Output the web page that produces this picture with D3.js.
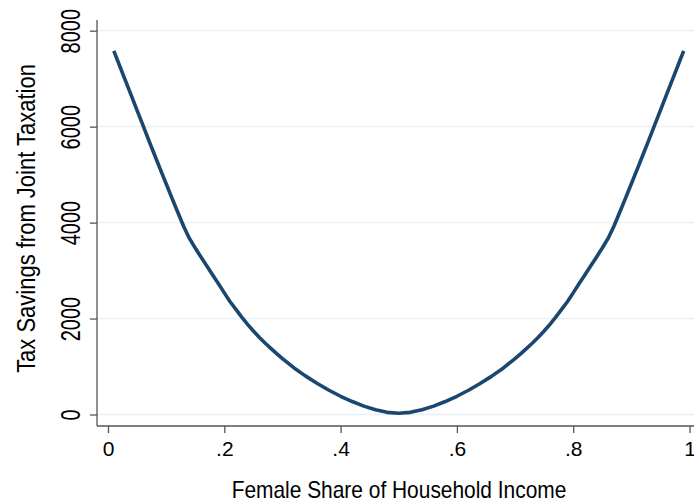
<!DOCTYPE html>
<html>
<head>
<meta charset="utf-8">
<script src="https://cdn.jsdelivr.net/npm/d3@7"></script>
<style>
  html, body { margin: 0; padding: 0; background: #fff; }
  svg { display: block; }
  text { font-family: "Liberation Sans", Arial, sans-serif; fill: #000; }
</style>
</head>
<body>
<svg id="chart" width="694" height="503"></svg>
<script>
// ---- data ----
const shareValues = [
  0.01, 0.02, 0.03, 0.04, 0.05, 0.06, 0.07, 0.08, 0.09, 0.10,
  0.11, 0.12, 0.13, 0.14, 0.15, 0.16, 0.17, 0.18, 0.19, 0.20,
  0.21, 0.22, 0.23, 0.24, 0.25, 0.26, 0.27, 0.28, 0.29, 0.30,
  0.32, 0.34, 0.36, 0.38, 0.40, 0.42, 0.44, 0.46, 0.48, 0.50,
  0.52, 0.54, 0.56, 0.58, 0.60, 0.62, 0.64, 0.66, 0.68, 0.70,
  0.71, 0.72, 0.73, 0.74, 0.75, 0.76, 0.77, 0.78, 0.79, 0.80,
  0.81, 0.82, 0.83, 0.84, 0.85, 0.86, 0.87, 0.88, 0.89, 0.90,
  0.91, 0.92, 0.93, 0.94, 0.95, 0.96, 0.97, 0.98, 0.99
];
const savingsValues = [
  7580, 7270, 6960, 6650, 6340, 6030, 5720, 5415, 5110, 4810,
  4510, 4215, 3925, 3670, 3470, 3280, 3095, 2910, 2725, 2535,
  2350, 2190, 2030, 1880, 1740, 1610, 1490, 1380, 1270, 1165,
  970, 800, 645, 505, 380, 270, 175, 100, 45, 25,
  45, 100, 175, 270, 380, 505, 645, 800, 970, 1165,
  1270, 1380, 1490, 1610, 1740, 1880, 2030, 2190, 2350, 2535,
  2725, 2910, 3095, 3280, 3470, 3670, 3925, 4215, 4510, 4810,
  5110, 5415, 5720, 6030, 6340, 6650, 6960, 7270, 7580
];
const xTickValues = [0, 0.2, 0.4, 0.6, 0.8, 1];
const xTickLabels = ["0", ".2", ".4", ".6", ".8", "1"];
const yTickValues = [0, 2000, 4000, 6000, 8000];
const yTickLabels = ["0", "2000", "4000", "6000", "8000"];
const xTitle = "Female Share of Household Income";
const yTitle = "Tax Savings from Joint Taxation";

// ---- layout ----
const svg = d3.select("#chart");
const axisX = 97, axisY = 426, plotTop = 20, plotRight = 694;
const x = d3.scaleLinear().domain([0, 1]).range([108, 689.5]);
const y = d3.scaleLinear().domain([0, 8000]).range([414.5, 30.7]);

// gridlines
svg.append("g").selectAll("line").data(yTickValues).join("line")
  .attr("x1", axisX).attr("x2", plotRight)
  .attr("y1", d => y(d)).attr("y2", d => y(d))
  .attr("stroke", "#e6eff1").attr("stroke-width", 1.3);

// y axis
const yAxis = svg.append("g").attr("transform", `translate(${axisX},0)`)
  .call(d3.axisLeft(y).tickValues(yTickValues).tickSize(7).tickFormat((d, i) => yTickLabels[i]));
yAxis.select(".domain").attr("d", `M0,${plotTop}V${axisY}`).attr("stroke", "#555").attr("stroke-width", 1.3);
yAxis.selectAll(".tick line").attr("stroke", "#555").attr("stroke-width", 1.3);
yAxis.selectAll(".tick text")
  .attr("font-size", 20).attr("font-family", "Liberation Sans, Arial, sans-serif")
  .attr("fill", "#000")
  .attr("text-anchor", "middle")
  .attr("x", null).attr("dy", null)
  .attr("transform", "translate(-17,0) rotate(-90) scale(1,1.35)")
  .attr("y", 0);

// x axis
const xAxis = svg.append("g").attr("transform", `translate(0,${axisY})`)
  .call(d3.axisBottom(x).tickValues(xTickValues).tickSize(7).tickFormat((d, i) => xTickLabels[i]));
xAxis.select(".domain").attr("d", `M${axisX},0H${plotRight}`).attr("stroke", "#555").attr("stroke-width", 1.3);
xAxis.selectAll(".tick line").attr("stroke", "#555").attr("stroke-width", 1.3);
xAxis.selectAll(".tick text")
  .attr("font-size", 21).attr("font-family", "Liberation Sans, Arial, sans-serif")
  .attr("fill", "#000")
  .attr("dy", null).attr("y", 30);

// line
const data = shareValues.map((s, i) => ({ s, v: savingsValues[i] }));
svg.append("path").datum(data)
  .attr("fill", "none")
  .attr("stroke", "#1a476f")
  .attr("stroke-width", 3.6)
  .attr("stroke-linejoin", "round")
  .attr("d", d3.line().x(d => x(d.s)).y(d => y(d.v)).curve(d3.curveLinear));

// titles
svg.append("text")
  .attr("transform", "translate(399,498) scale(0.91,1)")
  .attr("text-anchor", "middle")
  .attr("font-size", 23)
  .text(xTitle);

svg.append("text")
  .attr("transform", "translate(35,218.5) rotate(-90) scale(0.88,1)")
  .attr("text-anchor", "middle")
  .attr("font-size", 25)
  .text(yTitle);
</script>
</body>
</html>
